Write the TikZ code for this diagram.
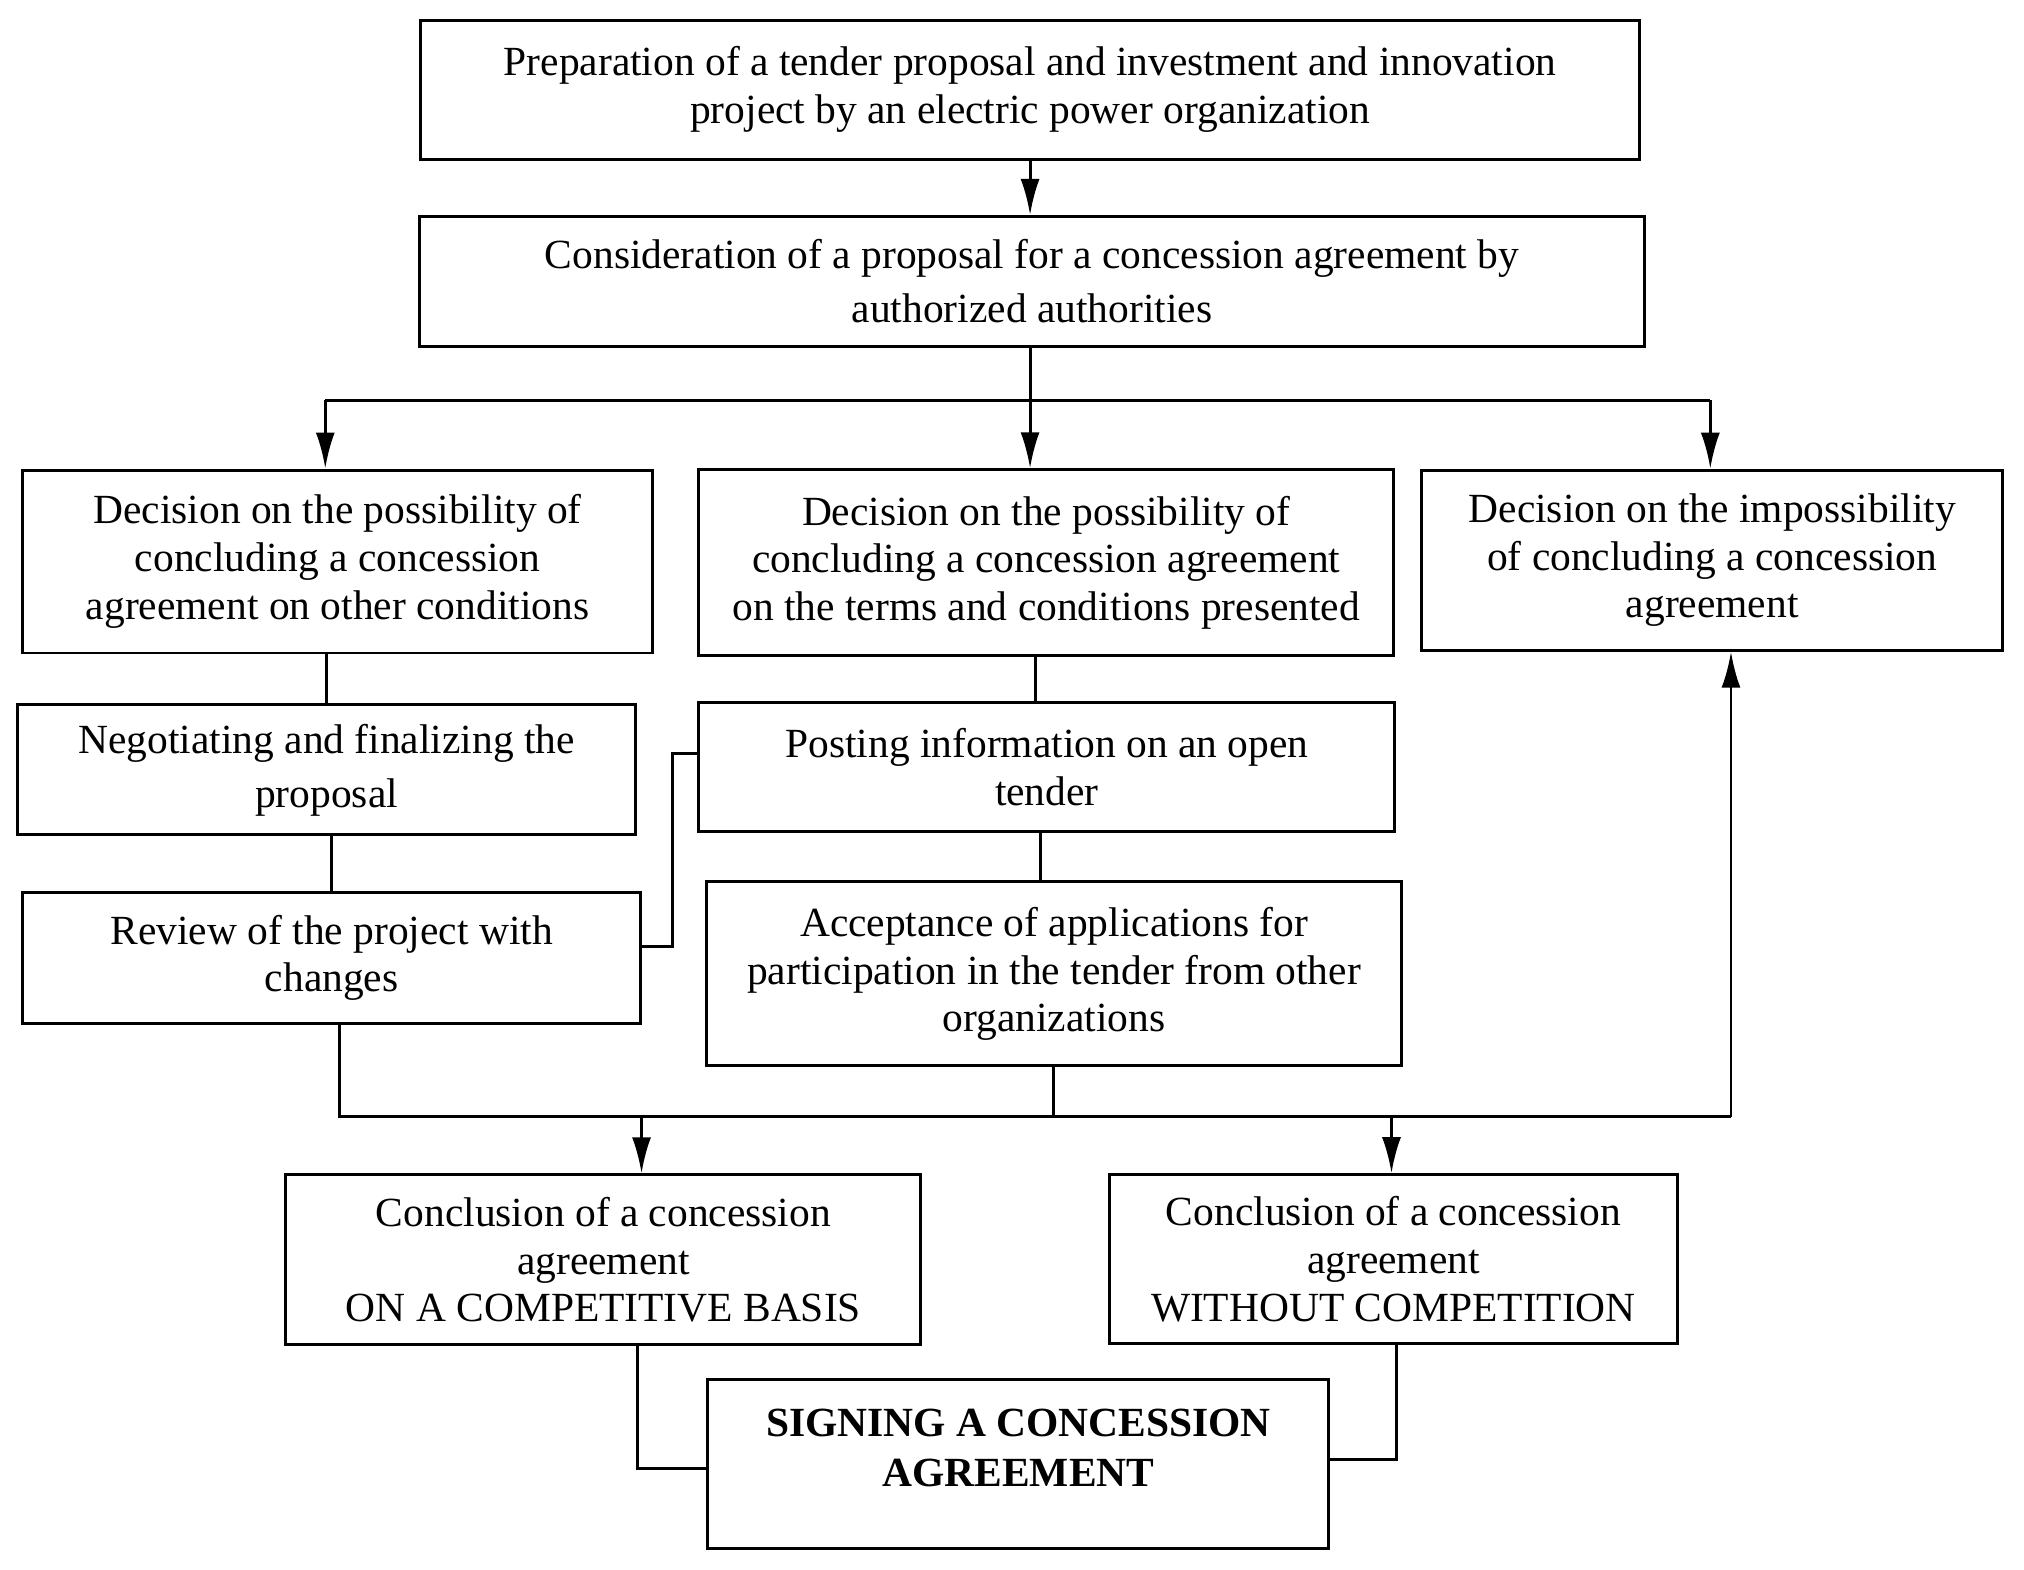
\documentclass[tikz,border=0pt]{standalone}
\usepackage{fontspec}
\setmainfont{Liberation Serif}
\usepackage{tikz}
\usetikzlibrary{arrows.meta}

\tikzset{
  box/.style={draw,line width=0.85pt,align=center,inner sep=2pt},
  link/.style={line width=0.85pt},
  arrow/.style={link,-{Latex[length=3.6mm,width=1.9mm]}}
}

\begin{document}
\begin{tikzpicture}[x=0.01291cm,y=-0.01291cm,font=\fontsize{11.8}{13.6}\selectfont]
\useasboundingbox (0,0) rectangle (1568,1216);
% boxes
\node[box,minimum width=12.19cm,minimum height=1.39cm] (prep) at (798,69.5)
  {Preparation of a tender proposal and investment and innovation\\project by an electric power organization};
\node[box,minimum width=12.26cm,minimum height=1.30cm,font=\fontsize{11.8}{15.4}\selectfont] (consid) at (799.5,218)
  {Consideration of a proposal for a concession agreement by\\authorized authorities};
\node[box,minimum width=6.30cm,minimum height=1.83cm] (otherdec) at (261.5,435)
  {Decision on the possibility of\\concluding a concession\\agreement on other conditions};
\node[box,minimum width=6.95cm,minimum height=1.86cm] (termsdec) at (810.5,436)
  {Decision on the possibility of\\concluding a concession agreement\\on the terms and conditions presented};
\node[box,minimum width=5.81cm,minimum height=1.80cm] (nodec) at (1326.5,434)
  {Decision on the impossibility\\of concluding a concession\\agreement};
\node[box,minimum width=6.18cm,minimum height=1.30cm,font=\fontsize{11.8}{15.4}\selectfont] (negot) at (253,596.5)
  {Negotiating and finalizing the\\proposal};
\node[box,minimum width=6.96cm,minimum height=1.29cm] (posting) at (811,594)
  {Posting information on an open\\tender};
\node[box,minimum width=6.18cm,minimum height=1.31cm] (review) at (257,742)
  {Review of the project with\\changes};
\node[box,minimum width=6.95cm,minimum height=1.84cm] (accept) at (816.5,754.5)
  {Acceptance of applications for\\participation in the tender from other\\organizations};
\node[box,minimum width=6.35cm,minimum height=1.70cm] (compet) at (467.5,976)
  {Conclusion of a concession\\agreement\\ON A COMPETITIVE BASIS};
\node[box,minimum width=5.68cm,minimum height=1.69cm] (nocompet) at (1079.5,975.5)
  {Conclusion of a concession\\agreement\\WITHOUT COMPETITION};
\node[box,minimum width=6.21cm,minimum height=1.69cm] (signing) at (789,1134.5) {};
\node[font=\bfseries\fontsize{11.8}{14.2}\selectfont,align=center] (signtext) at (789,1122)
  {SIGNING A CONCESSION\\AGREEMENT};
% branch points
\coordinate (forkL) at (252,310);
\coordinate (forkR) at (1325,310);
\coordinate (tapA) at (802,0);
\coordinate (tapB) at (806,0);
\coordinate (elbowA) at (521,733);
\coordinate (elbowB) at (521,584);
\coordinate (busL) at (263,865);
\coordinate (busR) at (1341,865);
\coordinate (dropL) at (497,865);
\coordinate (dropR) at (1078,865);
\coordinate (joinL) at (494,1138);
\coordinate (joinR) at (1082,1131);
% connectors
\draw[arrow] (prep.south) -- (prep.south |- consid.north);
\draw[arrow] (prep.south |- consid.south) -- (prep.south |- termsdec.north);
\draw[link] (forkL) -- (forkR);
\draw[arrow] (forkL) -- (forkL |- otherdec.north);
\draw[arrow] (forkR) -- (forkR |- nodec.north);
\draw[link] (negot.north |- otherdec.south) -- (negot.north);
\draw[link] (review.north |- negot.south) -- (review.north);
\draw[link] (tapA |- termsdec.south) -- (tapA |- posting.north);
\draw[link] (tapB |- posting.south) -- (tapB |- accept.north);
\draw[link] (review.east |- elbowA) -- (elbowA) -- (elbowB) -- (posting.west |- elbowB);
\draw[link] (busL |- review.south) -- (busL) -- (busR);
\draw[arrow] (busR) -- (busR |- nodec.south);
\draw[link] (accept.south) -- (accept.south |- busL);
\draw[arrow] (dropL) -- (dropL |- compet.north);
\draw[arrow] (dropR) -- (dropR |- nocompet.north);
\draw[link] (joinL |- compet.south) -- (joinL) -- (signing.west |- joinL);
\draw[link] (joinR |- nocompet.south) -- (joinR) -- (signing.east |- joinR);
\end{tikzpicture}
\end{document}
